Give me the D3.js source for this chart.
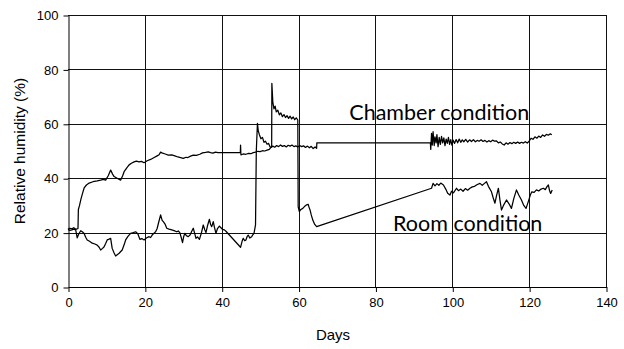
<!DOCTYPE html>
<html>
<head>
<meta charset="utf-8">
<script src="https://cdn.jsdelivr.net/npm/d3@7"></script>
<style>
  html, body { margin: 0; padding: 0; background: #fff; }
  svg { display: block; }
</style>
</head>
<body>
<svg id="chart" width="624" height="349"></svg>
<script>
// Axis ticks
const xTicks = [0, 20, 40, 60, 80, 100, 120, 140];
const yTicks = [0, 20, 40, 60, 80, 100];

// Chamber condition: day / relative humidity (%)
const chamberDay = [
  0, 0.5, 1, 1.5, 2, 2.6, 2.7, 3.0, 3.4, 3.8, 4.2, 4.8, 5.5, 6.5, 7.6, 8.5, 9.2, 9.8, 10.5, 11.1,
  11.6, 12, 13, 13.7, 14.2, 14.6, 15.3, 15.9, 16.5, 17.2, 17.8, 18.5, 19.1, 19.8, 20.6, 21.5, 22.3, 23.2, 23.7, 24.1,
  24.6, 25.3, 26.1, 27, 27.8, 28.6, 29.3, 30, 30.7, 31.2, 31.9, 32.6, 33.4, 34.3, 35.0, 35.8, 36.5, 37.1, 37.7, 38.4,
  39, 39.6, 44.85, 44.9, 45.0, 45.6, 46.3, 47, 47.6, 48.2, 48.8, 49.4, 50, 50.6, 51.2, 51.8, 52.4, 52.8, 53.3, 53.8,
  54.3, 54.8, 55.3, 55.8, 56.3, 56.8, 57.3, 57.8, 58.3, 58.8, 59.3, 59.8, 60.3, 60.8, 61.3, 61.8, 62.3, 62.8, 63.3, 63.8,
  64.3, 64.7, 64.75, 94.3, 94.4, 94.6, 94.8, 95.0, 95.3, 95.5, 95.8, 96.0, 96.3, 96.6, 96.9, 97.2, 97.5, 97.8, 98.1, 98.4,
  98.7, 99.0, 99.3, 99.6, 99.9, 100.2, 100.6, 101.0, 101.4, 101.8, 102.2, 102.6, 103.0, 103.5, 104, 104.5, 105, 105.5, 106, 106.5,
  107, 107.5, 108, 108.5, 109, 109.5, 110, 110.5, 111, 111.5, 112, 112.5, 113, 113.5, 114, 114.5, 115, 115.5, 116, 116.5,
  117, 117.5, 118, 118.5, 119, 119.5, 120, 120.5, 121, 121.5, 122, 122.5, 123, 123.5, 124, 124.5, 125, 125.5, 125.9
];
const chamberRH = [
  21.3, 21.6, 21.4, 21.8, 21.2, 21.5, 28.5, 30, 32.5, 34.5, 36.4, 37.5, 38.2, 38.7, 39, 39.3, 39.6, 39.3, 41, 43,
  41.5, 40.6, 39.8, 39.3, 40.8, 42.4, 43.8, 44.9, 45.5, 46, 46.3, 46, 46.2, 45.7, 46.4, 46.9, 47.5, 48.2, 48.6, 49.6,
  49.2, 48.9, 48.5, 48.6, 48.2, 47.8, 47.6, 47.3, 47.7, 47.6, 48.1, 48.5, 48.4, 48.8, 49.3, 49.5, 49.7, 49.4, 49.2, 49.6,
  49.4, 49.4, 49.4, 52.2, 48.6, 48.9, 48.8, 49.1, 49.0, 49.4, 49.6, 49.9, 49.8, 50.1, 50.0, 50.3, 50.6, 51.3, 51.8, 51.4,
  52.0, 51.6, 52.2, 51.7, 52.0, 51.5, 52.1, 51.8, 52.2, 51.6, 51.9, 51.5, 52.0, 51.6, 51.9, 51.3, 51.8, 51.2, 51.7, 50.9,
  51.5, 51.0, 53.0, 53.0, 50.6, 56.5, 52.2, 57.1, 52.0, 55.2, 53.0, 56.0, 51.6, 55.0, 52.4, 55.4, 53.0, 54.8, 52.0, 54.4,
  52.8, 55.0, 52.4, 54.2, 52.2, 54.0, 52.8, 54.2, 53.0, 54.4, 53.2, 54.1, 53.4, 54.3, 53.3, 54.1, 53.5, 54.2, 53.4, 53.9,
  53.6, 54.1, 53.5, 53.9, 53.3, 53.8, 53.4, 54.0, 53.6, 53.7, 53.0, 53.3, 52.6, 52.2, 53.0, 52.5, 53.1, 52.7, 53.2, 52.8,
  53.3, 52.8, 53.2, 52.9, 53.4, 52.9, 53.6, 54.7, 54.3, 55.2, 54.7, 55.5, 55.0, 55.9, 55.4, 56.1, 55.8, 56.3, 56.0
];

// Room condition: day / relative humidity (%)
const roomDay = [
  0, 0.5, 1, 1.5, 2.0, 2.4, 2.8, 3.3, 3.8, 4.2, 4.6, 5.0, 5.6, 6.3, 7.0, 7.6, 8.1, 8.5, 9.0, 9.4,
  9.8, 10.2, 10.7, 11.1, 11.5, 12.0, 12.4, 13.3, 14.1, 14.6, 15.0, 15.6, 16.3, 17.0, 17.6, 18.2, 18.7, 19.2, 19.8, 20.4,
  21.1, 21.5, 21.9, 22.4, 22.8, 23.2, 23.6, 24.1, 24.5, 24.8, 25.3, 25.7, 26.3, 27, 27.6, 28.3, 28.7, 29.1, 29.5, 29.8,
  30.1, 30.4, 30.8, 31.3, 31.8, 32.2, 32.6, 33.0, 33.3, 33.7, 34.2, 34.7, 35.2, 35.6, 35.9, 36.3, 36.8, 37.1, 37.4, 37.8,
  38.1, 38.5, 38.9, 39.4, 39.8, 40.2, 40.7, 41.1, 44.9, 45.3, 45.6, 46.0, 46.3, 46.6, 46.9, 47.3, 47.8, 48.1, 48.4, 48.8,
  49.0, 49.3, 49.5, 49.8, 50.2, 50.6, 51.0, 51.4, 51.8, 52.2, 52.6, 53.0, 53.05, 53.3, 53.6, 53.9, 54.2, 54.6, 55.0, 55.4,
  55.8, 56.2, 56.6, 57.0, 57.4, 57.8, 58.2, 58.6, 59.0, 59.4, 59.8, 59.9, 60.2, 60.6, 61.1, 61.7, 62.1, 62.5, 62.8, 63.0,
  63.3, 63.7, 64.2, 64.7, 94.6, 95.0, 95.5, 96, 96.5, 97.0, 97.7, 98.3, 98.8, 99.4, 99.8, 100.3, 101.1, 101.6, 102.2, 102.8,
  103.4, 104.0, 104.6, 105.2, 105.8, 106.4, 107.2, 107.8, 108.3, 108.9, 109.4, 110.2, 110.6, 111.1, 111.5, 112.0, 112.4, 112.8, 113.4, 114.1,
  114.8, 115.4, 116.0, 116.7, 117.3, 118.0, 118.6, 119.2, 119.8, 120.3, 120.7, 121.3, 121.9, 122.5, 123.1, 123.7, 124.2, 124.6, 125.0, 125.3,
  125.6, 126.0
];
const roomRH = [
  21.2, 20.8, 21.0, 21.3, 21.0, 18.1, 19.5, 20.7, 20.2, 19.7, 18.3, 17.3, 16.8, 16.1, 15.8, 15.4, 14.6, 13.6, 14.2, 14.8,
  16.0, 17.3, 17.6, 17.9, 14.2, 12.5, 11.4, 12.4, 13.6, 15.5, 17.3, 18.6, 19.7, 20.0, 20.3, 19.5, 17.5, 17.8, 17.3, 18.0,
  18.5, 18.2, 19.1, 19.8, 20.3, 21.5, 23.8, 26.5, 24.5, 24.0, 23.0, 21.6, 21.3, 21.0, 20.7, 20.3, 20.6, 20.0, 18.0, 16.3,
  18.5, 19.7, 18.9, 18.5, 19.2, 20.5, 21.6, 19.5, 17.9, 18.4, 17.5, 19.8, 22.8, 21.0, 20.0, 22.5, 24.9, 23.0, 22.2, 24.0,
  22.0, 19.7, 21.5, 22.4, 21.8, 21.2, 21.0, 20.5, 14.6, 16.8, 17.9, 17.0, 17.3, 18.5, 19.1, 18.0, 18.5, 19.2, 19.7, 22.8,
  50.0, 60.2, 57.5, 56, 54.5, 55, 53.2, 53.6, 52.5, 52.8, 51.5, 51.4, 74.9, 68, 65.5, 66.5, 64.4, 65.0, 63.3, 64.0,
  62.6, 63.4, 62.3, 63.0, 62.0, 62.8, 61.8, 62.5, 61.5, 62.2, 61.4, 29.5, 27.7, 28.5, 28.9, 29.8, 30.2, 30.4, 29.0, 28.3,
  26.5, 24.6, 23.0, 22.2, 36.3, 38.1, 37.2, 38.0, 37.4, 38.2, 37.5, 36.0, 34.5, 33.8, 35.2, 34.6, 36.3, 35.4, 36.0, 35.2,
  36.2, 35.6, 36.3, 36.8, 37.0, 37.6, 38.1, 37.4, 38.0, 38.7, 37.0, 35.0, 33.0, 30.8, 33.5, 36.3, 32.0, 28.3, 30.2, 32.0,
  30.5, 28.9, 32.5, 35.7, 33.8, 32.0, 30.0, 28.9, 31.5, 33.8, 35.0, 34.8, 35.7, 35.3, 36.0, 36.3, 35.8, 36.8, 37.5, 35.5,
  34.4, 35.7
];

const margin = { top: 15, right: 18, bottom: 62, left: 68 };
const W = 624, H = 349;
const innerW = W - margin.left - margin.right;
const innerH = H - margin.top - margin.bottom;

const svg = d3.select("#chart");
const g = svg.append("g").attr("transform", `translate(${margin.left},${margin.top})`);

const x = d3.scaleLinear().domain([0, 140]).range([0, innerW]);
const y = d3.scaleLinear().domain([0, 100]).range([innerH, 0]);

const crisp = v => Math.round(v) + 0.5;
const sansFont = "Arial, 'Liberation Sans', sans-serif";

// Grid
g.append("g").selectAll("line.h").data(yTicks.filter(t => t > 0)).join("line")
  .attr("x1", 0).attr("x2", innerW)
  .attr("y1", d => crisp(y(d))).attr("y2", d => crisp(y(d)))
  .attr("stroke", "#111").attr("stroke-width", 1);
g.append("g").selectAll("line.v").data(xTicks.filter(t => t > 0)).join("line")
  .attr("x1", d => crisp(x(d))).attr("x2", d => crisp(x(d)))
  .attr("y1", 0).attr("y2", innerH)
  .attr("stroke", "#111").attr("stroke-width", 1);

// Axes
const xAxis = d3.axisBottom(x).tickValues(xTicks).tickSize(5).tickPadding(6).tickSizeOuter(0);
const yAxis = d3.axisLeft(y).tickValues(yTicks).tickSize(5).tickPadding(5).tickSizeOuter(0);

const gx = g.append("g").attr("transform", `translate(0.5,${crisp(innerH) - 0.5})`).call(xAxis);
const gy = g.append("g").attr("transform", `translate(0.5,0.5)`).call(yAxis);
[gx, gy].forEach(a => {
  a.attr("font-family", sansFont).attr("font-size", 13);
  a.selectAll("path.domain").attr("stroke", "#000");
  a.selectAll(".tick line").attr("stroke", "#000");
  a.selectAll("text").style("font-family", sansFont).style("font-size", "13px").attr("fill", "#000");
});

// Series
const line = d3.line().x(d => x(d[0])).y(d => y(d[1]));
const chamber = d3.zip(chamberDay, chamberRH);
const room = d3.zip(roomDay, roomRH);

g.append("path").datum(room).attr("d", line)
  .attr("fill", "none").attr("stroke", "#000").attr("stroke-width", 1.25).attr("stroke-linejoin", "round");
g.append("path").datum(chamber).attr("d", line)
  .attr("fill", "none").attr("stroke", "#000").attr("stroke-width", 1.25).attr("stroke-linejoin", "round");

// Series annotations
const annoFont = "Lato, 'Open Sans', sans-serif";
g.append("text").attr("x", x(73.2)).attr("y", y(61.5))
  .style("font-family", annoFont).style("font-size", "21.5px").attr("fill", "#000")
  .text("Chamber condition");
g.append("text").attr("x", x(84.6)).attr("y", y(20.6))
  .style("font-family", annoFont).style("font-size", "21.5px").attr("fill", "#000")
  .text("Room condition");

// Axis titles
svg.append("text")
  .attr("transform", `translate(25,${margin.top + innerH / 2}) rotate(-90)`)
  .attr("text-anchor", "middle")
  .style("font-family", sansFont).style("font-size", "15.5px")
  .text("Relative humidity (%)");
svg.append("text")
  .attr("x", margin.left + innerW / 2 - 4).attr("y", 340)
  .attr("text-anchor", "middle")
  .style("font-family", sansFont).style("font-size", "15px")
  .text("Days");
</script>
</body>
</html>
